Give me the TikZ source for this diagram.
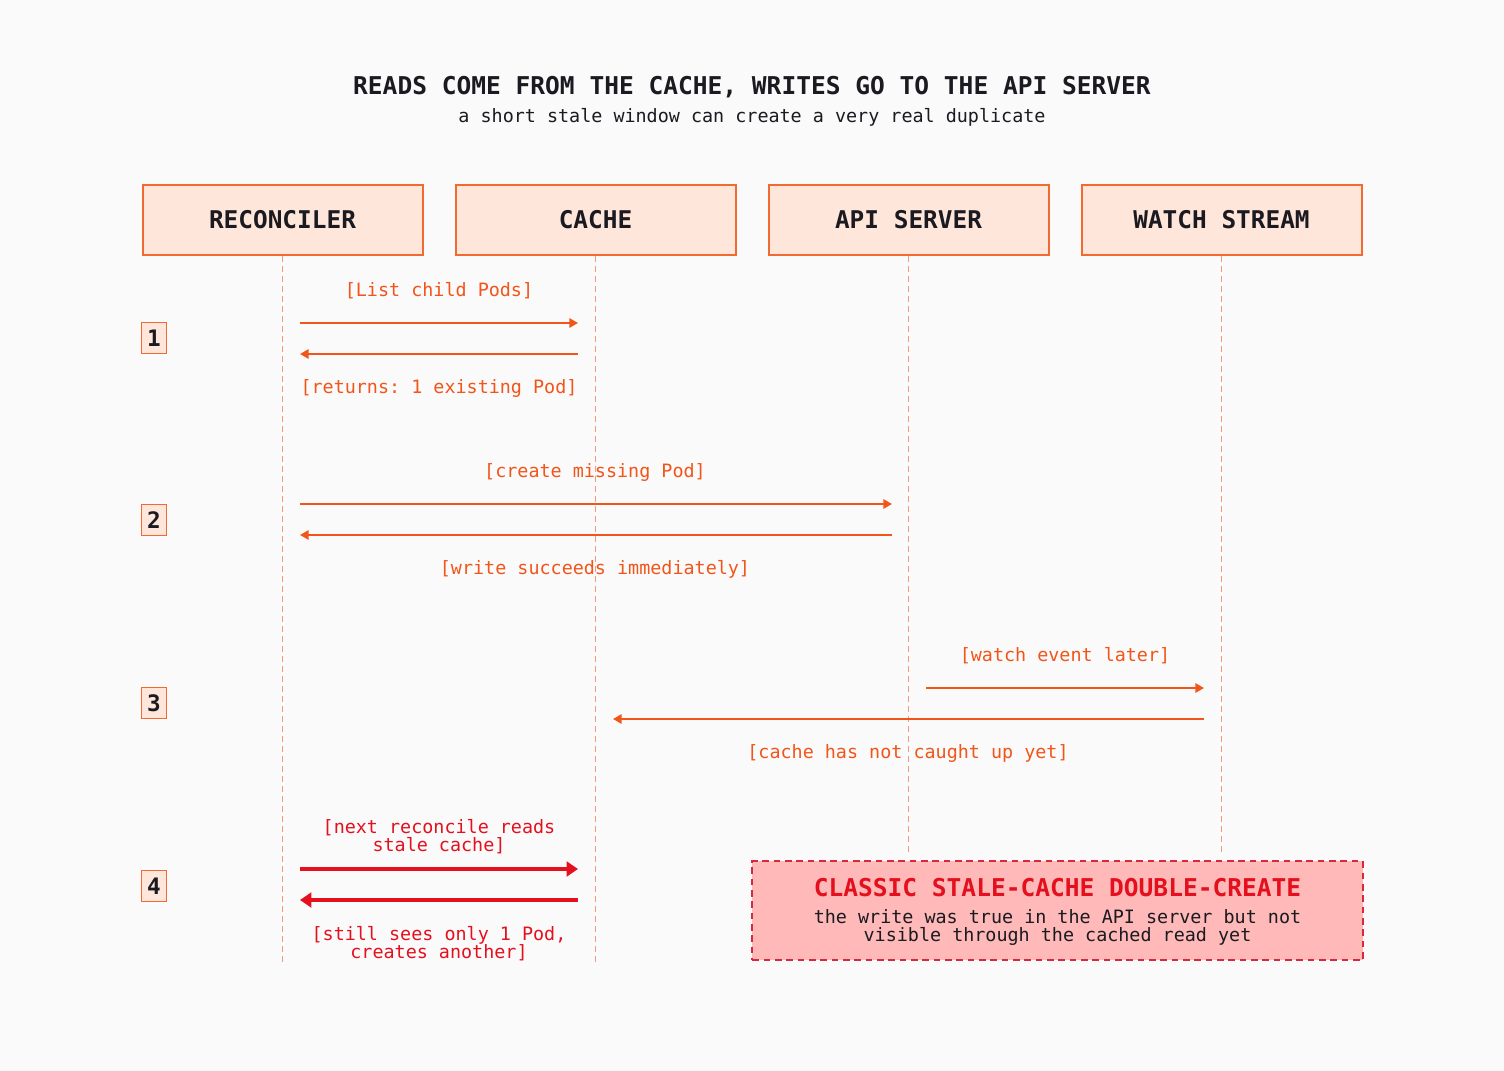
\documentclass[tikz,border=0pt]{standalone}
\usepackage{fontspec}
\setmonofont{DejaVu Sans Mono}
\usetikzlibrary{arrows.meta, positioning}
\definecolor{paper}{HTML}{FAFAFA}
\definecolor{boxfill}{HTML}{FFE6DA}
\definecolor{boxline}{HTML}{F06A32}
\definecolor{msg}{HTML}{F2551A}
\definecolor{life}{HTML}{F29A80}
\definecolor{alert}{HTML}{E4101E}
\definecolor{alertfill}{HTML}{FFB9B9}
\definecolor{alertline}{HTML}{D62A3A}
\definecolor{ink}{HTML}{1A1A20}

\begin{document}
\begin{tikzpicture}[x=0.75pt, y=-0.75pt,
        actor/.style={draw=boxline, fill=boxfill, line width=1.5pt, minimum width=210pt, minimum height=53pt, inner sep=0pt, text=ink, font=\ttfamily\bfseries\fontsize{18.3}{20}\selectfont},
        stepno/.style={draw=boxline, fill=boxfill, line width=0.9pt, minimum width=19pt, minimum height=23.5pt, inner sep=0pt, text=ink, font=\ttfamily\bfseries\fontsize{17}{18}\selectfont},
        lifeline/.style={draw=life, line width=1.2pt, dash pattern=on 4.5pt off 3pt},
        msgline/.style={draw=msg, line width=1.5pt, -{Triangle[length=6.5pt, width=7pt]}},
        badline/.style={draw=alert, line width=2.4pt, -{Triangle[length=8.5pt, width=11pt]}},
        lbl/.style={text=msg, align=center, inner sep=0pt, font=\ttfamily\fontsize{13.8}{13.5}\selectfont},
        badlbl/.style={lbl, text=alert}]

    % background
    \fill[paper] (0,0) rectangle (1504,1071);
    \useasboundingbox (0,0) rectangle (1504,1071);

    % titles
    \node[text=ink, font=\ttfamily\bfseries\fontsize{18.4}{20}\selectfont] (title) at (752,87) {READS COME FROM THE CACHE, WRITES GO TO THE API SERVER};
    \node[text=ink, font=\ttfamily\fontsize{13.8}{15}\selectfont] (subtitle) at (752,117) {a short stale window can create a very real duplicate};

    % participants
    \node[actor] (rec) at (282.5,220) {RECONCILER};
    \node[actor, right=23.25pt of rec] (cache) {CACHE};
    \node[actor, right=23.25pt of cache] (api) {API SERVER};
    \node[actor, right=23.25pt of api] (watch) {WATCH STREAM};

    % lifelines
    \coordinate (recEnd) at (rec.south |- 0,962);
    \coordinate (cacheEnd) at (cache.south |- 0,962);
    \coordinate (apiEnd) at (api.south |- 0,853);
    \coordinate (watchEnd) at (watch.south |- 0,853);
    \draw[lifeline] (rec.south) -- (recEnd);
    \draw[lifeline] (cache.south) -- (cacheEnd);
    \draw[lifeline] (api.south) -- (apiEnd);
    \draw[lifeline] (watch.south) -- (watchEnd);

    % step numbers
    \node[stepno] (n1) at (154,338) {1};
    \node[stepno] (n2) at (154,520) {2};
    \node[stepno] (n3) at (154,703) {3};
    \node[stepno] (n4) at (154,886) {4};

    % step 1
    \coordinate (a1) at (300,323);
    \coordinate (b1) at (578,323);
    \coordinate (c1) at (578,354);
    \coordinate (d1) at (300,354);
    \draw[msgline] (a1) -- (b1);
    \draw[msgline] (c1) -- (d1);
    \node[lbl] (l1) at (439,291) {[List child Pods]};
    \node[lbl] (r1) at (439,388) {[returns: 1 existing Pod]};

    % step 2
    \coordinate (a2) at (300,504);
    \coordinate (b2) at (892,504);
    \coordinate (c2) at (892,535);
    \coordinate (d2) at (300,535);
    \draw[msgline] (a2) -- (b2);
    \draw[msgline] (c2) -- (d2);
    \node[lbl] (l2) at (595,472) {[create missing Pod]};
    \node[lbl] (r2) at (595,569) {[write succeeds immediately]};

    % step 3
    \coordinate (a3) at (926,688);
    \coordinate (b3) at (1204,688);
    \coordinate (c3) at (1204,719);
    \coordinate (d3) at (613,719);
    \draw[msgline] (a3) -- (b3);
    \draw[msgline] (c3) -- (d3);
    \node[lbl] (l3) at (1065,656) {[watch event later]};
    \node[lbl] (r3) at (908,753) {[cache has not caught up yet]};

    % step 4
    \coordinate (a4) at (300,869);
    \coordinate (b4) at (578,869);
    \coordinate (c4) at (578,900);
    \coordinate (d4) at (300,900);
    \draw[badline] (a4) -- (b4);
    \draw[badline] (c4) -- (d4);
    \node[badlbl] (l4) at (439,837) {[next reconcile reads\\stale cache]};
    \node[badlbl] (r4) at (439,944) {[still sees only 1 Pod,\\creates another]};

    % warning box
    \node[draw=alertline, fill=alertfill, line width=1.5pt, dash pattern=on 5pt off 3.5pt, minimum width=458pt, minimum height=74pt] (warn) at (1057.5,910.5) {};
    \node[text=alert, font=\ttfamily\bfseries\fontsize{18.4}{20}\selectfont] (warnTitle) at (1057.5,888) {CLASSIC STALE-CACHE DOUBLE-CREATE};
    \node[text=ink, align=center, inner sep=0pt, font=\ttfamily\fontsize{13.8}{13.5}\selectfont] (warnText) at (1057.5,927) {the write was true in the API server but not\\visible through the cached read yet};
\end{tikzpicture}
\end{document}
